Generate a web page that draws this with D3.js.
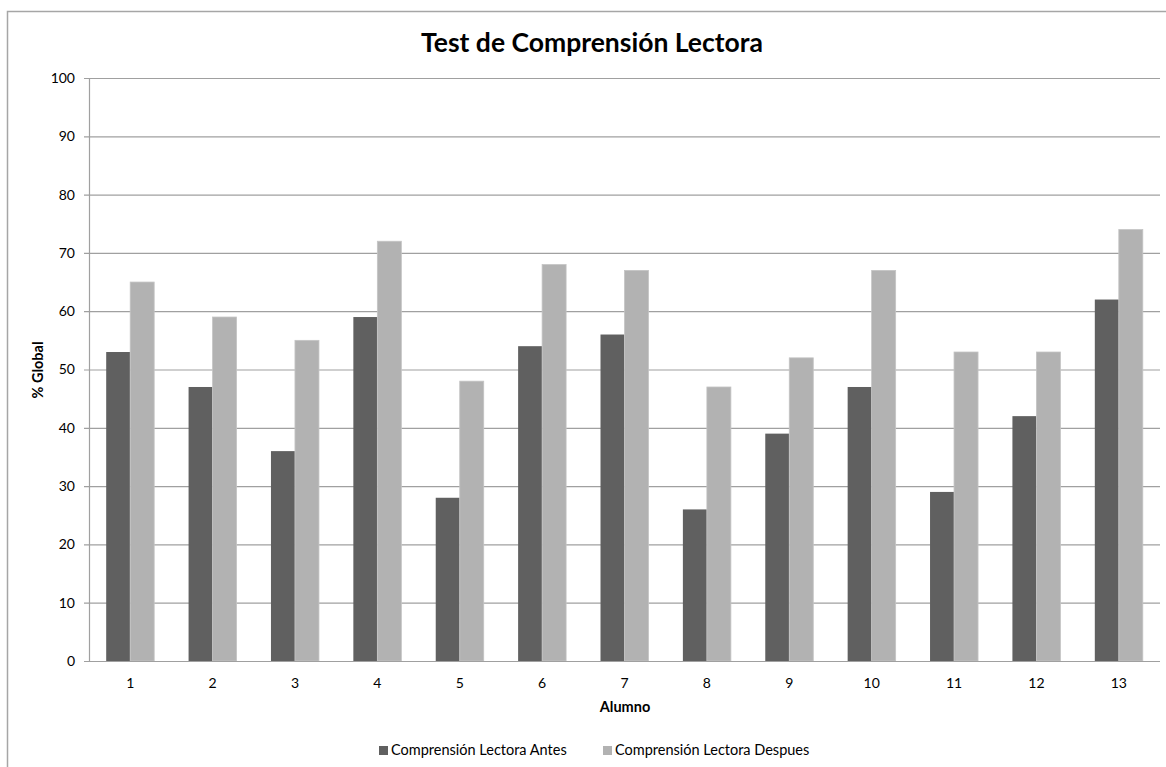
<!DOCTYPE html>
<html><head><meta charset="utf-8">
<script src="https://cdn.jsdelivr.net/npm/d3@7"></script>
<style>body{margin:0;background:#fff;} svg{display:block;font-family:Lato,"Open Sans",sans-serif;}</style>
</head><body>
<svg id="c" width="1166" height="767"></svg>
<script>
const categories = ["1","2","3","4","5","6","7","8","9","10","11","12","13"];
const antes = [53,47,36,59,28,54,56,26,39,47,29,42,62];
const despues = [65,59,55,72,48,68,67,47,52,67,53,53,74];
const seriesNames = ["Comprensión Lectora Antes","Comprensión Lectora Despues"];
const colors = ["#606060","#b2b2b2"];
const yTicks = [0,10,20,30,40,50,60,70,80,90,100];

const svg = d3.select("#c");
// outer border
svg.append("path").attr("d","M7.5,767 V11.5 H1166").attr("fill","none").attr("stroke","#a6a6a6").attr("stroke-width",1.5);

const L=89, R=1160, T=78, B=661;
const x = d3.scaleBand().domain(categories).range([L,R]);
const y = d3.scaleLinear().domain([0,100]).range([B,T]);

// gridlines
svg.append("g").selectAll("line").data(yTicks).join("line")
 .attr("x1",L-5).attr("x2",R).attr("y1",d=>y(d)+0.5).attr("y2",d=>y(d)+0.5)
 .attr("stroke","#a0a0a0").attr("stroke-width",1.2);
// y axis line
svg.append("line").attr("x1",L+0.5).attr("x2",L+0.5).attr("y1",T).attr("y2",B+1).attr("stroke","#a0a0a0").attr("stroke-width",1.2);

const yAxis = d3.axisLeft(y).tickValues(yTicks).tickSize(0).tickPadding(14);
const ga = svg.append("g").attr("transform",`translate(${L},0)`).call(yAxis);
ga.select(".domain").remove();
ga.selectAll("text").attr("font-size",14).attr("fill","#000").attr("font-family","Lato");

const xAxis = d3.axisBottom(x).tickSize(0).tickPadding(17);
const gx = svg.append("g").attr("transform",`translate(0,${B})`).call(xAxis);
gx.select(".domain").remove();
gx.selectAll("text").attr("font-size",14).attr("fill","#000").attr("font-family","Lato");

const bw = 24;
const data = categories.map((c,i)=>({c, v:[antes[i],despues[i]]}));
const g = svg.append("g");
data.forEach(d=>{
  const cx = x(d.c)+x.bandwidth()/2;
  d.v.forEach((v,j)=>{
    g.append("rect").attr("x",cx-bw+j*bw).attr("width",bw)
     .attr("y",y(v)).attr("height",B-y(v))
     .attr("fill",colors[j]).attr("stroke",j===1?"#c4c4c4":"none").attr("stroke-width",0.8);
  });
});
// redraw baseline on top
svg.append("line").attr("x1",L-5).attr("x2",R).attr("y1",B+0.5).attr("y2",B+0.5).attr("stroke","#a0a0a0").attr("stroke-width",1.2);

svg.append("text").attr("x",592).attr("y",52).attr("text-anchor","middle")
 .attr("font-size",26.5).attr("font-weight","bold").text("Test de Comprensión Lectora");
svg.append("text").attr("transform","translate(43,370) rotate(-90)").attr("text-anchor","middle")
 .attr("font-size",14.5).attr("font-weight","bold").text("% Global");
svg.append("text").attr("x",625).attr("y",712).attr("text-anchor","middle")
 .attr("font-size",14.5).attr("font-weight","bold").text("Alumno");

const legX=[379,603];
seriesNames.forEach((n,i)=>{
  svg.append("rect").attr("x",legX[i]).attr("y",746).attr("width",9).attr("height",9).attr("fill",colors[i]);
  svg.append("text").attr("x",legX[i]+12).attr("y",755).attr("font-size",14.5).attr("fill","#000").text(n);
});
</script>
</body></html>
